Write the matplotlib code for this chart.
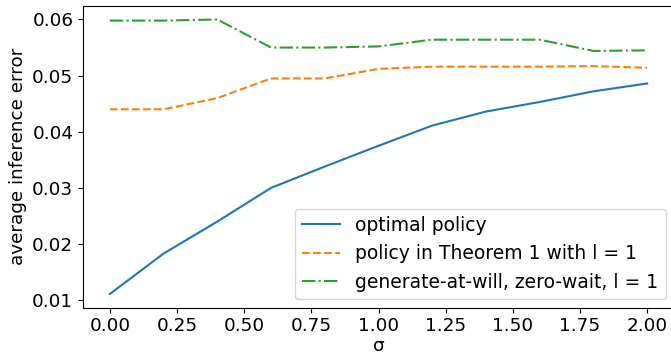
import numpy as np
import matplotlib.pyplot as plt

sigma = np.round(np.arange(0, 2.01, 0.2), 2)
optimal = [0.0111, 0.0183, 0.0240, 0.0300, 0.0338, 0.0375, 0.0411, 0.0436, 0.0453, 0.0472, 0.0486]
theorem1 = [0.0440, 0.0440, 0.0460, 0.0495, 0.0495, 0.0512, 0.0516, 0.0516, 0.0516, 0.0517, 0.0514]
zero_wait = [0.0598, 0.0598, 0.0600, 0.0550, 0.0550, 0.0552, 0.0564, 0.0564, 0.0564, 0.0544, 0.0545]

plt.rcParams['font.size'] = 13.2

fig, ax = plt.subplots(figsize=(6.71, 3.6), dpi=100)
ax.plot(sigma, optimal, '-', label='optimal policy')
ax.plot(sigma, theorem1, '--', label='policy in Theorem 1 with l = 1')
ax.plot(sigma, zero_wait, '-.', label='generate-at-will, zero-wait, l = 1')
ax.set_xlabel('σ', labelpad=1)
ax.set_ylabel('average inference error')
ax.set_xticks(np.arange(0, 2.01, 0.25))
ax.set_yticks([0.01, 0.02, 0.03, 0.04, 0.05, 0.06])
ax.legend(loc='lower right', fontsize=13.5, borderaxespad=0.45)
# the reference is cropped on the right, so the axes run past the edge
fig.subplots_adjust(left=0.1237, right=1.0045, top=0.984, bottom=0.1453)
fig.savefig('out.png')
